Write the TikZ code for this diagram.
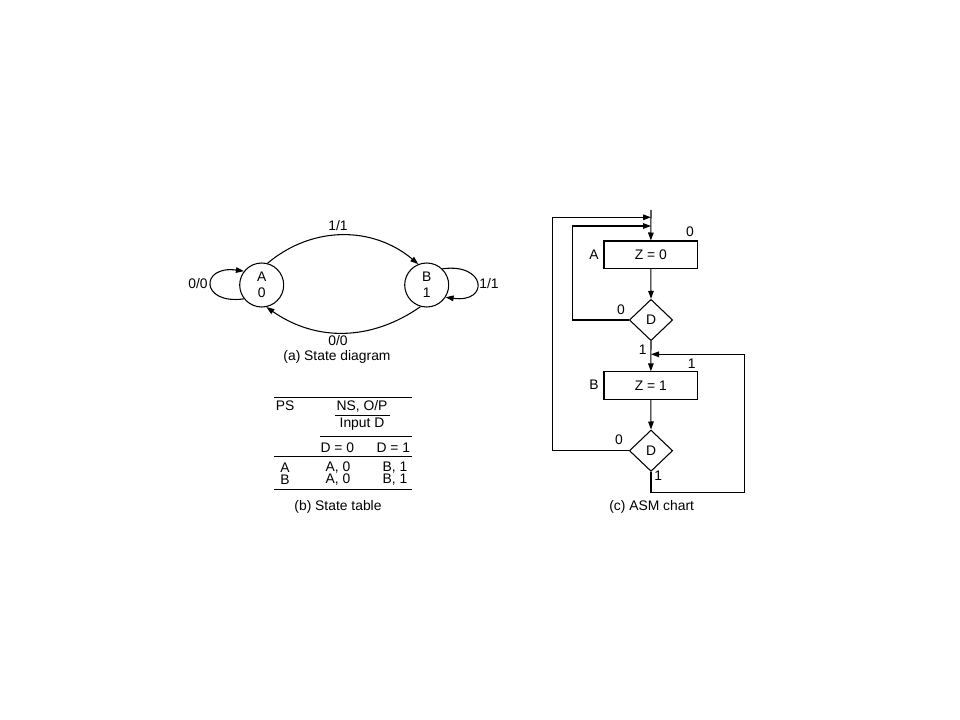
\documentclass[tikz,border=0pt]{standalone}
\usepackage{fontspec}
\setmainfont{Liberation Sans}
\usetikzlibrary{arrows.meta,shapes.geometric}
\begin{document}
\begin{tikzpicture}[x=0.75pt,y=-0.75pt,
  font=\fontsize{10.4}{12}\selectfont,
  line width=0.8pt,
  arr/.style={-{Triangle[length=6pt,width=4.2pt]}},
  state/.style={circle,draw,minimum size=33pt,inner sep=0pt,align=center,font=\fontsize{10.4}{11.8}\selectfont},
  box/.style={draw,rectangle,minimum width=70.3pt,minimum height=20.5pt,inner sep=0pt},
  dec/.style={draw,diamond,minimum width=32.5pt,minimum height=31pt,inner sep=0pt},
  lbl/.style={inner sep=0pt},
  rule/.style={line width=0.6pt}]
\useasboundingbox (0,0) rectangle (960,720);

% ---------- (a) State diagram ----------
\node[state] (SA) at (261.7,285) {A\\0};
\node[state] (SB) at (426.7,285) {B\\1};
\draw[arr] (SA.75) to[out=40,in=140] (SB.112);
\draw[arr] (SB.254) to[out=215,in=325] (SA.282);
\draw[arr] (SA.218) .. controls +(-44,6) and +(-44,-6) .. (SA.142);
\draw[arr] (SB.46) .. controls +(44,-6) and +(44,6) .. (SB.-33);
\node[lbl] (l11) at (338,226) {1/1};
\node[lbl] (l00) at (338,340.5) {0/0};
\node[lbl] (lA) at (198,283.5) {0/0};
\node[lbl] (lB) at (489,283.5) {1/1};
\node[lbl] (capa) at (337,357) {(a) State diagram};

% ---------- (b) State table ----------
\draw[rule] (274,397) -- (411.7,397);
\draw[rule] (335,415.5) -- (390,415.5);
\draw[rule] (320,436.5) -- (411.7,436.5);
\draw[rule] (274,456.5) -- (411.7,456.5);
\draw[rule] (274,489.5) -- (411.7,489.5);
\node[lbl] (tps) at (285,406) {PS};
\node[lbl] (tns) at (362,406) {NS, O/P};
\node[lbl] (tin) at (362,424.5) {Input D};
\node[lbl] (td0) at (337.3,447.5) {D = 0};
\node[lbl] (td1) at (393.3,447.5) {D = 1};
\node[lbl] (ta) at (285,467.5) {A};
\node[lbl] (ta0) at (338,467.5) {A, 0};
\node[lbl] (tb1) at (395,467.5) {B, 1};
\node[lbl] (tb) at (285,480) {B};
\node[lbl] (tb0) at (338,480) {A, 0};
\node[lbl] (tb2) at (395,480) {B, 1};
\node[lbl] (capb) at (338,506.5) {(b) State table};

% ---------- (c) ASM chart ----------
\coordinate (top) at (651,210);
\coordinate (j1) at (651,217.3);
\coordinate (j2) at (651,226);
\coordinate (j3) at (651,354.3);
\node[box] (BA) at (650.85,254.7) {Z = 0};
\node[dec] (D1) at (651,320) {D};
\node[box] (BB) at (650.85,385.5) {Z = 1};
\node[dec] (D2) at (651,450.7) {D};

\draw[arr] (top) -- (BA.north);
\draw[arr] (BA.south) -- (D1.north);
\draw[arr] (D1.south) -- (BB.north);
\draw[arr] (BB.south) -- (D2.north);
\draw[arr] (D1.west) -- (572.7,320) |- (j2);
\draw[arr] (D2.west) -- (552.7,450.7) |- (j1);
\draw[arr] (D2.south) -- (651,492.7) -- (744.3,492.7) |- (j3);

\node[lbl] (c0a) at (690,231.7) {0};
\node[lbl] (cA) at (594,254.3) {A};
\node[lbl] (c0b) at (621,309.3) {0};
\node[lbl] (c1a) at (642.7,350) {1};
\node[lbl] (c1b) at (691.7,364) {1};
\node[lbl] (cB) at (594,385) {B};
\node[lbl] (c0c) at (619,440) {0};
\node[lbl] (c1c) at (658.3,476) {1};
\node[lbl] (capc) at (651.7,506.7) {(c) ASM chart};
\end{tikzpicture}
\end{document}
